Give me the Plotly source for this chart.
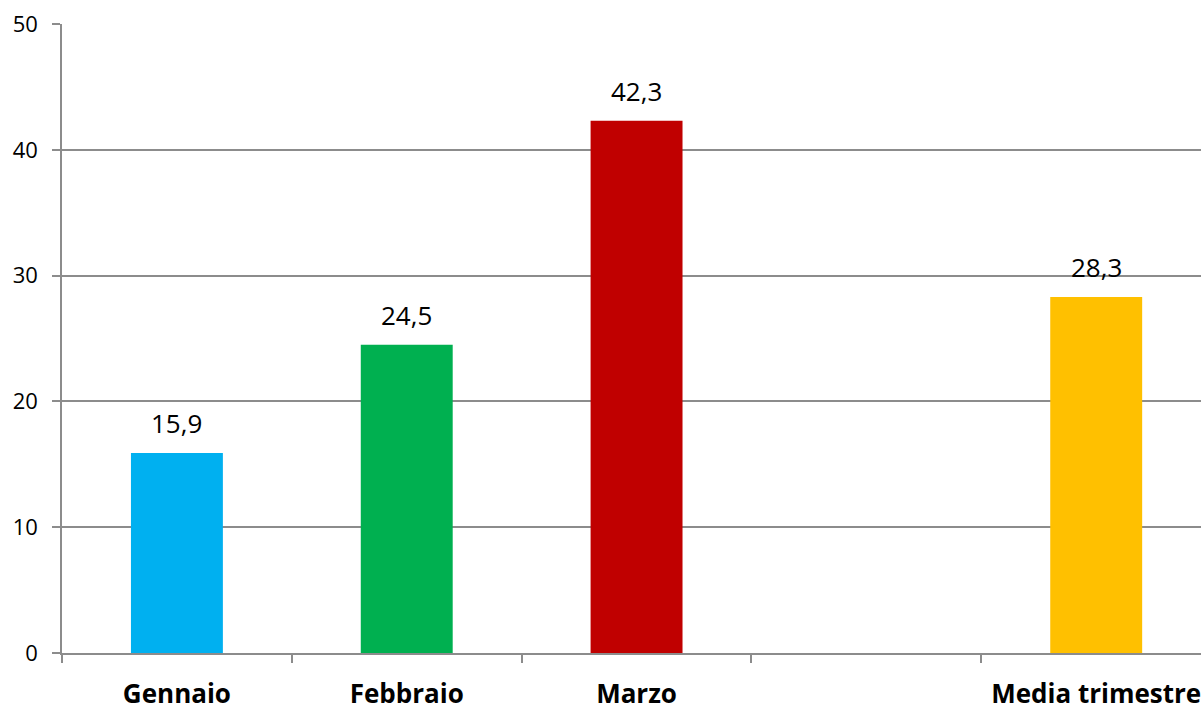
import plotly.graph_objects as go

categories = ["Gennaio", "Febbraio", "Marzo", " ", "Media trimestre"]
values = [15.9, 24.5, 42.3, None, 28.3]
labels = ["15,9", "24,5", "42,3", "", "28,3"]
colors = ["#00B0F0", "#00B050", "#C00000", "#FFFFFF", "#FFC000"]
y_ticks = [0, 10, 20, 30, 40, 50]

FONT = "'Open Sans', Lato, sans-serif"
GRID = "#8c8c8c"

fig = go.Figure()
fig.add_trace(go.Bar(
    x=categories, y=values, marker=dict(color=colors, line=dict(width=0)),
    width=0.4, hoverinfo="skip", showlegend=False,
))

for c, v, t in zip(categories, values, labels):
    if v is None:
        continue
    fig.add_annotation(x=c, y=v, text=t, showarrow=False, yanchor="middle",
                       yshift=30, font=dict(family=FONT, size=26, color="#000000"))

fig.update_layout(
    width=1201, height=706,
    margin=dict(l=62, r=0, t=24, b=53, autoexpand=False),
    paper_bgcolor="white", plot_bgcolor="white",
    font=dict(family=FONT, color="#000000"),
    bargap=0.6,
)
fig.update_xaxes(
    type="category", categoryorder="array", categoryarray=categories,
    range=[-0.5, 4.456], tickson="boundaries", ticks="outside", ticklen=8,
    tickcolor=GRID, tickwidth=1.5, showline=True, linecolor=GRID, linewidth=1.5,
    showgrid=False, tickfont=dict(family=FONT, size=26, color="#000000", weight="bold"),
    ticklabelstandoff=17, automargin=False, fixedrange=True,
)
fig.update_yaxes(
    range=[0, 50], tickvals=y_ticks, ticktext=[str(v) for v in y_ticks],
    ticks="outside", ticklen=8, tickcolor=GRID, tickwidth=1.5,
    showline=True, linecolor=GRID, linewidth=1.5,
    showgrid=True, gridcolor=GRID, gridwidth=1.5, zeroline=False,
    tickfont=dict(family=FONT, size=22, color="#000000"),
    ticklabelstandoff=10, automargin=False, fixedrange=True,
)

fig.write_html(
    "out.html",
    config={"displayModeBar": False},
    post_script="document.body.style.margin='0';document.body.style.overflow='hidden';",
)
